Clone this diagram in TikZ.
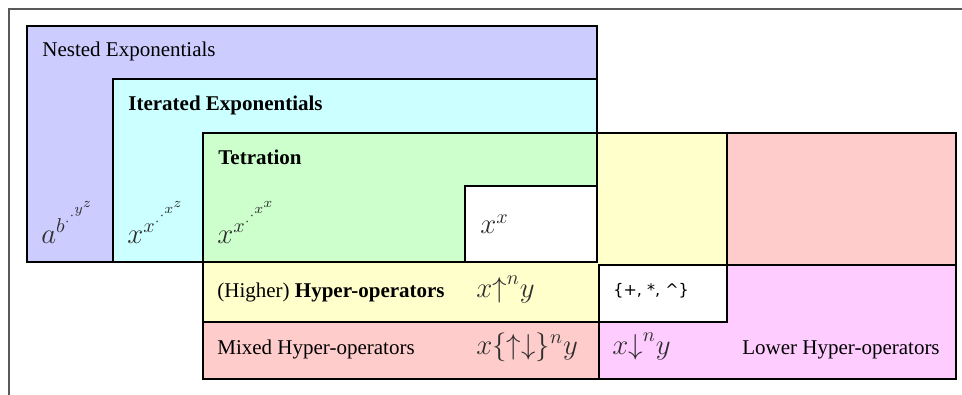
\documentclass[tikz,border=0pt]{standalone}
\usepackage{fontspec}
\setmainfont{Liberation Serif}
\newfontfamily\symsans{DejaVu Sans}
\begin{document}
\begin{tikzpicture}[x=0.5pt,y=-0.5pt,
  setbox/.style={draw=black,line width=1.3pt,line join=miter},
  lbl/.style={anchor=base west,inner sep=0pt,font=\fontsize{10.5}{12}\selectfont},
  mth/.style={anchor=base west,inner sep=0pt,text=black!82,font=\fontsize{14.5}{16}\selectfont},
  sym/.style={anchor=base west,inner sep=0pt,font=\symsans\fontsize{8}{10}\selectfont}]
\definecolor{cLav}{HTML}{CCCCFF}
\definecolor{cCyan}{HTML}{CCFFFF}
\definecolor{cGreen}{HTML}{CCFFCC}
\definecolor{cYel}{HTML}{FFFFCC}
\definecolor{cRed}{HTML}{FFCCCC}
\definecolor{cPink}{HTML}{FFCCFF}
\useasboundingbox (0,0) rectangle (962,395);
% outer frame
\draw[gray!70!black,line width=0.7pt] (9,395) -- (9,9) -- (962,9);
% mixed (red) region
\path[setbox,fill=cRed] (203,133) rectangle (956,379);
% nested exponentials
\path[setbox,fill=cLav] (27,26) rectangle (597,262);
\path[setbox,fill=cCyan] (113,79) rectangle (597,262);
\path[setbox,fill=cGreen] (203,133) rectangle (597,262);
\path[setbox,fill=white] (465,186) rectangle (597,262);
% higher hyper-operators (yellow L)
\path[setbox,fill=cYel] (203,262) -- (597,262) -- (597,133) -- (727,133) -- (727,322) -- (203,322) -- cycle;
% lower hyper-operators (pink)
\path[setbox,fill=cPink] (599,265) rectangle (956,379);
\path[setbox,fill=white] (599,265) rectangle (727,322);
% texts
\node[lbl] (nested) at (42,57) {Nested Exponentials};
\node[lbl] (iter) at (128,111) {\bfseries Iterated Exponentials};
\node[lbl] (tet) at (218,165) {\bfseries Tetration};
\node[mth] (fa) at (41,243) {$a^{b^{\cdot^{\cdot^{y^z}}}}$};
\node[mth] (fb) at (127,243) {$x^{x^{\cdot^{\cdot^{x^z}}}}$};
\node[mth] (fc) at (217,243) {$x^{x^{\cdot^{\cdot^{x^x}}}}$};
\node[mth] (fd) at (480,234) {$x^x$};
\node[lbl] (higher) at (217,297) {(Higher) \textbf{Hyper-operators}};
\node[mth] (fe) at (476,297) {$x{\uparrow}^n y$};
\node[sym] (ops) at (613,295) {\{+, *, \^{}\}};
\node[lbl] (mixed) at (217,354) {Mixed Hyper-operators};
\node[mth] (ff) at (476,354) {$x\{{\uparrow}{\downarrow}\}^n y$};
\node[mth] (fg) at (612,354) {$x{\downarrow}^n y$};
\node[lbl] (lower) at (742,354) {Lower Hyper-operators};
\end{tikzpicture}
\end{document}
